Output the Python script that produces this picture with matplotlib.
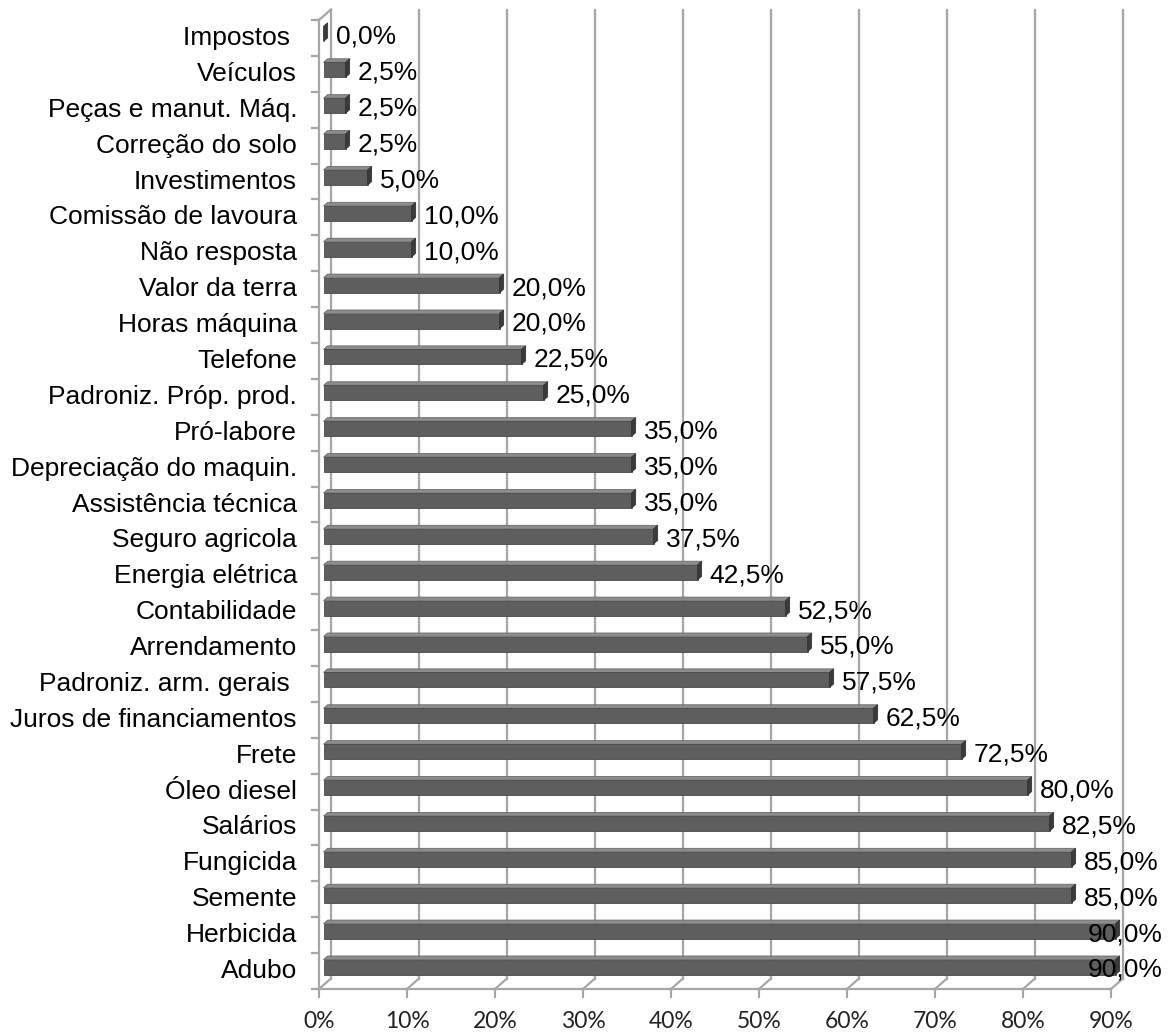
import matplotlib.pyplot as plt
from matplotlib.patches import Polygon

# itens de custo (de baixo para cima) e % de respostas
itens = ["Adubo", "Herbicida", "Semente", "Fungicida", "Salários", "Óleo diesel",
         "Frete", "Juros de financiamentos", "Padroniz. arm. gerais ", "Arrendamento",
         "Contabilidade", "Energia elétrica", "Seguro agricola", "Assistência técnica",
         "Depreciação do maquin.", "Pró-labore", "Padroniz. Próp. prod.", "Telefone",
         "Horas máquina", "Valor da terra", "Não resposta", "Comissão de lavoura",
         "Investimentos", "Correção do solo", "Peças e manut. Máq.", "Veículos",
         "Impostos "]
valores = [90.0, 90.0, 85.0, 85.0, 82.5, 80.0, 72.5, 62.5, 57.5, 55.0, 52.5, 42.5,
           37.5, 35.0, 35.0, 35.0, 25.0, 22.5, 20.0, 20.0, 10.0, 10.0, 5.0, 2.5,
           2.5, 2.5, 0.0]
ticks_x = [0, 10, 20, 30, 40, 50, 60, 70, 80, 90]

W, H = 1173, 1035
fig = plt.figure(figsize=(W / 100, H / 100), dpi=100)
x0, x1, yb, yt = 319, 1111, 989, 20
ax = fig.add_axes([x0 / W, (H - yb) / H, (x1 - x0) / W, (yb - yt) / H])
ax.set_xlim(0, 90)
ax.set_ylim(-0.5, len(itens) - 0.5)
ax.axis("off")

px_x = 90 / (x1 - x0)          # unidades de dados por pixel
px_y = len(itens) / (yb - yt)
DX, DY = 12 * px_x, 10.5 * px_y  # profundidade do "3D"


def desloca(x, y, d):
    return (x + d * DX, y + d * DY)


cinza = "#a6a6a6"
ybot, ytop = -0.5, len(itens) - 0.5
lin = dict(color=cinza, lw=1.6, clip_on=False, zorder=0.5)

# parede do fundo: linhas de grade
for v in ticks_x:
    ax.plot(*zip(desloca(v, ybot, 1), desloca(v, ytop, 1)), **lin)
    ax.plot(*zip((v, ybot), desloca(v, ybot, 1)), **lin)
    ax.plot([v, v], [ybot, ybot - 8 * px_y], **lin)
    ax.text(v, ybot - 33 * px_y, f"{v}%", ha="center", va="center",
            fontsize=16.5, family="Lato", color="#222222")

# eixos da frente
ax.plot([0, 90], [ybot, ybot], **lin)
ax.plot([0, 0], [ybot, ytop], **lin)
ax.plot(*zip((0, ytop), desloca(0, ytop, 1)), **lin)
for k in range(len(itens) + 1):
    ax.plot([0, -7 * px_x], [ybot + k, ybot + k], **lin)

# barras 3D
d0, d1 = 0.38, 0.72
h = 15 * px_y
rotulos = []
for i, (nome, v) in enumerate(zip(itens, valores)):
    yl, yh = i - h / 2, i + h / 2
    frente = [desloca(0, yl, d0), desloca(v, yl, d0), desloca(v, yh, d0), desloca(0, yh, d0)]
    topo = [desloca(0, yh, d0), desloca(v, yh, d0), desloca(v, yh, d1), desloca(0, yh, d1)]
    fim = [desloca(v, yl, d0), desloca(v, yl, d1), desloca(v, yh, d1), desloca(v, yh, d0)]
    ax.add_patch(Polygon(topo, closed=True, fc="#8c8c8c", ec="#6a6a6a", lw=0.6, clip_on=False, zorder=2))
    ax.add_patch(Polygon(frente, closed=True, fc="#5e5e5e", ec="#4a4a4a", lw=0.6, clip_on=False, zorder=2))
    ax.add_patch(Polygon(fim, closed=True, fc="#3a3a3a", ec="#333333", lw=0.6, clip_on=False, zorder=2))

    ax.text(-22 * px_x, i, nome, ha="right", va="center", fontsize=19,
            family="Liberation Sans", color="black")
    xe = v + d1 * DX + 8 * px_x
    t = ax.text(xe, i + 0.03, f"{v:.1f}%".replace(".", ","), ha="left", va="center",
                fontsize=19, family="Liberation Sans", color="black", clip_on=False, zorder=3)
    rotulos.append(t)

# rótulos que passam da borda ficam encostados à direita
fig.canvas.draw()
r = fig.canvas.get_renderer()
for t in rotulos:
    bb = t.get_window_extent(r)
    if bb.x1 > W - 9:
        x, y = t.get_position()
        t.set_position((x - (bb.x1 - (W - 10)) * px_x, y))

fig.savefig("out.png", dpi=100)
